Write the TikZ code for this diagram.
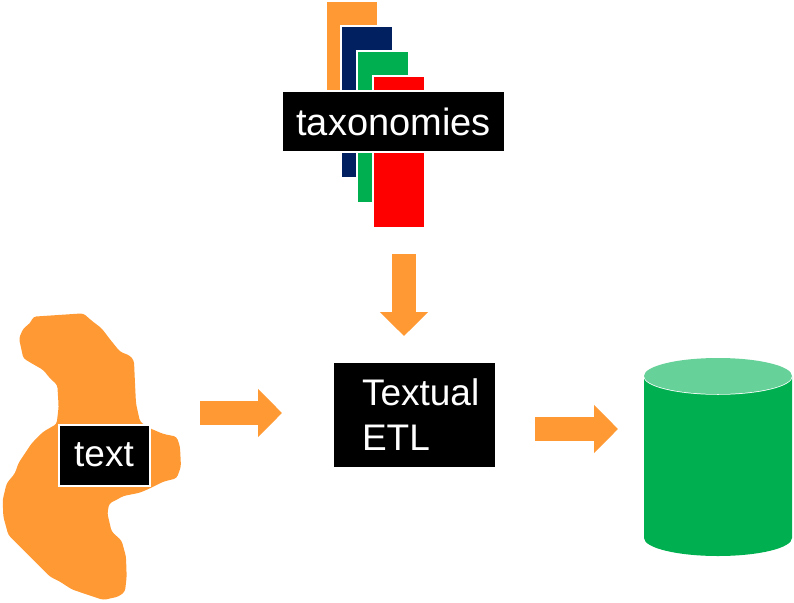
\documentclass[tikz,border=0pt]{standalone}
\usepackage{fontspec}
\setmainfont{Liberation Sans}
\usetikzlibrary{arrows.meta}
\definecolor{orangeF}{HTML}{FF9933}
\definecolor{navyF}{HTML}{002060}
\definecolor{greenF}{HTML}{00B050}
\definecolor{redF}{HTML}{FF0000}
\definecolor{capF}{HTML}{66D199}
\tikzset{
  sheet/.style={draw=white,line width=2pt,minimum width=52pt,minimum height=152pt,anchor=north west,inner sep=0pt},
  blackbox/.style={fill=black,text=white,inner sep=0pt,anchor=center},
  flow/.style={orangeF,line width=24pt,-{Triangle[length=24pt,width=47pt]}},
}
\begin{document}
\begin{tikzpicture}[x=1pt,y=-1pt]
\useasboundingbox (0,0) rectangle (794,602);
% taxonomy sheets
\node[sheet,fill=orangeF] (s1) at (325,0) {};
\node[sheet,fill=navyF] (s2) at (340,25) {};
\node[sheet,fill=greenF] (s3) at (356,50) {};
\node[sheet,fill=redF] (s4) at (372,75) {};
\node[blackbox,draw=white,line width=2pt,minimum width=223pt,minimum height=61pt,font=\fontsize{38pt}{40pt}\selectfont] (tax) at (393.5,121.5) {taxonomies};
% text blob
\begin{scope}[shift={(0,300)},x=0.3333pt,y=-0.3333pt]
\fill[orangeF,rounded corners=3pt]
 (100,50)--(250,40)--(275,62)--(305,85)--(330,118)--(360,155)--(390,167)--(402,182)--(405,250)--(408,310)--(420,365)--(450,385)--(490,402)--(530,410)--(540,440)--(543,500)--(530,535)--(490,545)--(450,565)--(420,578)--(370,588)--(345,602)--(328,610)--(322,640)--(335,695)--(365,722)--(378,770)--(380,830)--(375,875)--(355,890)--(310,900)--(250,880)--(215,868)--(180,845)--(150,830)--(110,790)--(70,750)--(25,705)--(10,650)--(8,600)--(20,550)--(45,520)--(55,490)--(95,430)--(130,395)--(170,372)--(176,320)--(172,255)--(150,235)--(130,210)--(95,190)--(70,175)--(57,115)--(70,85)--(90,70)--cycle;
\end{scope}
\node[blackbox,draw=white,line width=2pt,minimum width=91pt,minimum height=61pt,font=\fontsize{37pt}{40pt}\selectfont] (txt) at (104,455) {text};
% ETL
\node[blackbox,minimum width=161pt,minimum height=104pt,text width=133pt,align=left,font=\fontsize{37pt}{45pt}\selectfont] (etl) at (414.5,415) {\hspace*{14pt}Textual\\\hspace*{14pt}ETL};
% cylinder
\fill[greenF] (644,376) -- (644,538) arc[start angle=180,end angle=360,x radius=74pt,y radius=18pt] -- (792,376) -- cycle;
\draw[white,line width=1.5pt,fill=capF] (718,376) ellipse[x radius=74pt,y radius=18pt];
\fill[capF] (644,376) arc[start angle=180,end angle=360,x radius=74pt,y radius=-18pt] arc[start angle=0,end angle=180,x radius=74pt,y radius=-18pt];
% arrows
\coordinate (a1s) at (404,254); \coordinate (a1e) at (404,336);
\coordinate (a2s) at (200,413); \coordinate (a2e) at (282,413);
\coordinate (a3s) at (535,429); \coordinate (a3e) at (618,429);
\draw[flow] (a1s) -- (a1e);
\draw[flow] (a2s) -- (a2e);
\draw[flow] (a3s) -- (a3e);
\end{tikzpicture}
\end{document}
